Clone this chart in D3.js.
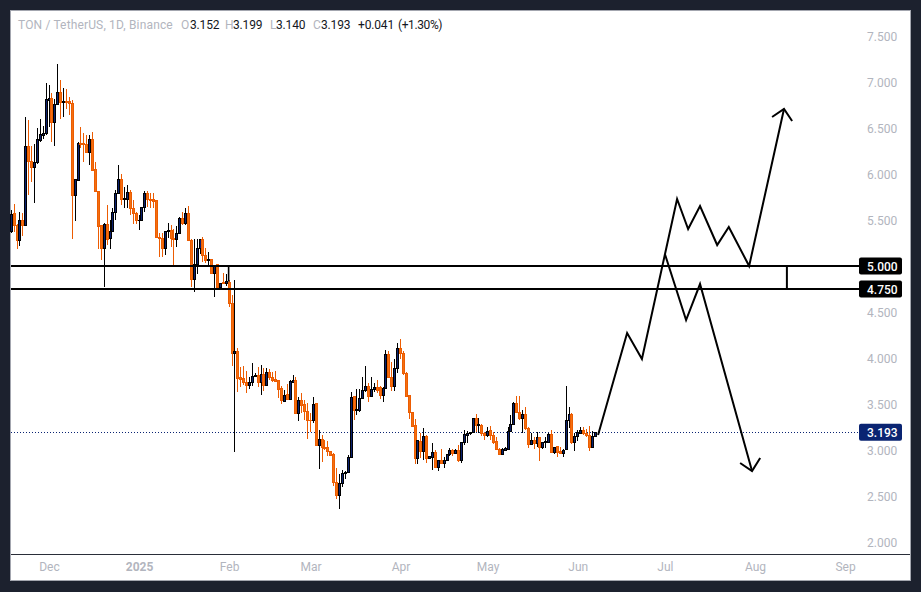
<!DOCTYPE html>
<html>
<head>
<meta charset="utf-8">
<style>
  html, body { margin: 0; padding: 0; background: #1c212e; overflow: hidden; }
  svg { display: block; }
  text { font-family: Roboto, sans-serif; font-size: 12px; }
  .axis text { fill: #b2b5be; font-size: 12px; }
  .axis .domain { display: none; }
</style>
</head>
<body>
<svg id="chart" width="921" height="592"></svg>
<script src="https://cdn.jsdelivr.net/npm/d3@7"></script>
<script>
// days are counted from 1 Dec 2024, first candle sits 13 days before that
const firstDay = -13;

const opens = [
  5.37, 5.572, 5.445, 5.275, 5.50, 5.44, 6.304, 6.134, 6.07, 6.12,
  6.362, 6.42, 6.435, 6.80, 6.82, 6.558, 6.757, 6.888, 6.78, 6.79,
  6.785, 6.768, 5.764, 5.927, 6.333, 6.33, 6.32, 6.232, 6.377, 6.05,
  5.815, 5.435, 5.19, 5.446, 5.30, 5.373, 5.583, 5.79, 5.942, 5.718,
  5.718, 5.80, 5.62, 5.573, 5.49, 5.50, 5.638, 5.79, 5.718, 5.718,
  5.707, 5.308, 5.30, 5.188, 5.377, 5.39, 5.30, 5.29, 5.355, 5.511,
  5.457, 5.573, 5.275, 4.855, 5.011, 5.192, 5.29, 5.112, 5.058, 5.076,
  4.917, 5.011, 4.768, 4.822, 4.811, 4.822, 4.594, 4.05, 4.076, 3.786,
  3.778, 3.735, 3.706, 3.735, 3.804, 3.815, 3.731, 3.822, 3.699, 3.844,
  3.79, 3.768, 3.753, 3.67, 3.532, 3.598, 3.55, 3.731, 3.76, 3.398,
  3.543, 3.50, 3.423, 3.326, 3.318, 3.507, 3.054, 3.119, 3.028, 3.028,
  2.981, 2.956, 2.645, 2.51, 2.637, 2.746, 2.757, 2.92, 3.58, 3.427,
  3.434, 3.558, 3.645, 3.695, 3.579, 3.655, 3.684, 3.68, 3.59, 3.67,
  4.043, 3.79, 3.688, 3.887, 4.105, 4.051, 3.833, 3.587, 3.409, 3.261,
  2.909, 3.09, 2.989, 3.152, 2.913, 2.92, 2.975, 2.808, 2.891, 2.851,
  2.891, 2.946, 3.0, 2.96, 3.0, 2.884, 3.083, 3.163, 3.174, 3.188,
  3.337, 3.264, 3.268, 3.181, 3.156, 3.21, 3.156, 3.087, 3.007, 2.949,
  3.0, 3.007, 3.203, 3.279, 3.507, 3.409, 3.34, 3.388, 3.235, 3.062,
  3.098, 3.072, 3.138, 3.025, 3.08, 3.083, 3.17, 2.971, 3.036, 2.989,
  2.964, 3.007, 3.319, 3.388, 3.08, 3.145, 3.181, 3.21, 3.181, 3.156,
  3.025, 3.152
];
const highs = [
  5.61, 5.674, 5.46, 5.587, 5.58, 6.62, 6.587, 6.304, 6.33, 6.50,
  6.60, 6.52, 6.99, 6.967, 6.88, 6.82, 7.195, 7.02, 6.94, 6.92,
  6.84, 6.80, 5.94, 6.35, 6.51, 6.45, 6.42, 6.42, 6.46, 6.13,
  5.82, 5.44, 5.464, 5.663, 5.50, 5.627, 5.826, 6.10, 6.0, 5.86,
  5.88, 5.83, 5.717, 5.59, 5.555, 5.64, 5.81, 5.81, 5.79, 5.797,
  5.718, 5.362, 5.36, 5.38, 5.464, 5.446, 5.40, 5.43, 5.536, 5.59,
  5.627, 5.652, 5.29, 5.29, 5.29, 5.29, 5.31, 5.192, 5.156, 5.08,
  5.01, 5.015, 4.82, 4.927, 4.913, 4.847, 4.684, 4.847, 4.105, 3.905,
  3.916, 3.858, 3.797, 3.942, 3.84, 3.905, 3.92, 3.887, 3.887, 3.876,
  3.85, 3.858, 3.76, 3.695, 3.65, 3.713, 3.76, 3.815, 3.79, 3.572,
  3.623, 3.543, 3.507, 3.398, 3.58, 3.514, 3.217, 3.163, 3.108, 3.097,
  2.99, 2.963, 2.80, 2.739, 2.782, 2.775, 2.945, 3.634, 3.587, 3.659,
  3.659, 3.797, 3.913, 3.73, 3.797, 3.73, 3.76, 3.695, 3.688, 4.087,
  4.08, 3.96, 3.989, 4.159, 4.207, 4.08, 3.851, 3.598, 3.41, 3.333,
  3.10, 3.18, 3.235, 3.163, 2.93, 3.072, 3.0, 2.893, 3.007, 2.92,
  2.946, 3.018, 3.015, 3.007, 3.054, 3.085, 3.217, 3.206, 3.20, 3.351,
  3.388, 3.344, 3.283, 3.199, 3.254, 3.261, 3.199, 3.145, 3.018, 3.018,
  3.036, 3.254, 3.38, 3.518, 3.587, 3.587, 3.435, 3.464, 3.254, 3.188,
  3.145, 3.199, 3.14, 3.085, 3.145, 3.188, 3.217, 3.036, 3.043, 3.036,
  3.007, 3.696, 3.464, 3.40, 3.181, 3.217, 3.246, 3.246, 3.224, 3.261,
  3.206, 3.199
];
const lows = [
  5.36, 5.373, 5.185, 5.217, 5.33, 5.44, 5.77, 5.916, 5.68, 6.11,
  6.35, 6.38, 6.42, 6.51, 6.35, 6.30, 6.75, 6.594, 6.616, 6.71,
  6.64, 5.293, 5.49, 5.92, 6.28, 6.13, 6.225, 6.10, 6.04, 5.80,
  5.19, 5.065, 4.775, 5.228, 5.19, 5.37, 5.50, 5.79, 5.663, 5.627,
  5.627, 5.555, 5.457, 5.457, 5.39, 5.49, 5.59, 5.645, 5.627, 5.627,
  5.30, 5.10, 5.094, 5.12, 5.30, 5.21, 4.993, 5.21, 5.355, 5.45,
  5.45, 5.27, 4.775, 4.72, 4.913, 5.13, 5.047, 5.03, 5.01, 4.91,
  4.667, 4.74, 4.74, 4.80, 4.78, 4.558, 3.916, 2.981, 3.634, 3.688,
  3.706, 3.623, 3.663, 3.695, 3.79, 3.688, 3.597, 3.645, 3.695, 3.76,
  3.735, 3.735, 3.561, 3.50, 3.525, 3.543, 3.543, 3.73, 3.395, 3.318,
  3.398, 3.326, 3.119, 3.199, 3.29, 3.05, 2.793, 2.873, 2.999, 2.93,
  2.935, 2.608, 2.463, 2.362, 2.594, 2.68, 2.746, 2.909, 3.326, 3.38,
  3.416, 3.554, 3.634, 3.518, 3.572, 3.634, 3.615, 3.55, 3.525, 3.663,
  3.78, 3.64, 3.645, 3.84, 3.985, 3.815, 3.572, 3.333, 3.25, 2.848,
  2.848, 2.909, 2.891, 2.862, 2.90, 2.783, 2.805, 2.775, 2.85, 2.808,
  2.88, 2.935, 2.935, 2.957, 2.873, 2.862, 3.054, 3.072, 3.16, 3.188,
  3.199, 3.188, 3.156, 3.109, 3.145, 3.109, 3.065, 3.0, 2.946, 2.946,
  2.993, 3.0, 3.199, 3.272, 3.40, 3.326, 3.188, 3.217, 3.025, 3.054,
  3.007, 3.029, 2.884, 3.007, 3.018, 3.08, 2.964, 2.956, 2.92, 2.953,
  2.927, 3.0, 3.243, 3.065, 2.993, 3.101, 3.18, 3.163, 3.145, 2.993,
  3.02, 3.14
];
const closes = [
  5.565, 5.445, 5.275, 5.50, 5.44, 6.304, 6.134, 6.072, 6.127, 6.37,
  6.424, 6.44, 6.81, 6.82, 6.558, 6.757, 6.888, 6.78, 6.79, 6.78,
  6.77, 5.764, 5.935, 6.333, 6.32, 6.32, 6.232, 6.377, 6.043, 5.808,
  5.427, 5.19, 5.446, 5.293, 5.373, 5.583, 5.79, 5.942, 5.718, 5.73,
  5.80, 5.62, 5.573, 5.49, 5.50, 5.638, 5.79, 5.718, 5.71, 5.703,
  5.308, 5.30, 5.192, 5.38, 5.387, 5.30, 5.29, 5.355, 5.511, 5.457,
  5.573, 5.275, 4.855, 5.011, 5.192, 5.29, 5.112, 5.058, 5.076, 4.917,
  5.004, 4.768, 4.81, 4.811, 4.83, 4.594, 4.05, 4.076, 3.778, 3.771,
  3.731, 3.706, 3.735, 3.804, 3.811, 3.731, 3.822, 3.699, 3.844, 3.79,
  3.76, 3.75, 3.663, 3.536, 3.594, 3.55, 3.742, 3.757, 3.398, 3.543,
  3.489, 3.416, 3.318, 3.318, 3.50, 3.054, 3.119, 3.028, 3.017, 2.981,
  2.945, 2.645, 2.51, 2.637, 2.746, 2.757, 2.92, 3.572, 3.427, 3.442,
  3.561, 3.652, 3.695, 3.579, 3.663, 3.684, 3.652, 3.597, 3.67, 4.043,
  3.79, 3.688, 3.887, 4.105, 4.051, 3.833, 3.58, 3.409, 3.254, 2.909,
  3.098, 2.989, 3.152, 2.909, 2.924, 2.975, 2.808, 2.891, 2.851, 2.89,
  2.946, 3.0, 2.96, 3.0, 2.884, 3.083, 3.17, 3.181, 3.188, 3.337,
  3.268, 3.275, 3.174, 3.156, 3.199, 3.156, 3.08, 3.007, 2.949, 3.007,
  3.011, 3.203, 3.279, 3.507, 3.409, 3.34, 3.388, 3.235, 3.062, 3.098,
  3.072, 3.138, 3.025, 3.083, 3.087, 3.17, 2.971, 3.029, 2.975, 2.964,
  3.0, 3.326, 3.388, 3.08, 3.145, 3.188, 3.21, 3.174, 3.156, 3.025,
  3.149, 3.193
];

// short black wick above the early February candle
const strayWick = { index: 75, high: 5.0, low: 4.83 };

const priceTicks = [2, 2.5, 3, 3.5, 4, 4.5, 5.5, 6, 6.5, 7, 7.5];
const monthDays = [0, 31, 62, 90, 121, 151, 182, 212, 243, 274];
const monthLabels = ['Dec', '2025', 'Feb', 'Mar', 'Apr', 'May', 'Jun', 'Jul', 'Aug', 'Sep'];

const zoneTop = 5.0;
const zoneBottom = 4.75;
const lastPrice = 3.193;
const zoneMarkDay = 254;

// projected paths
const upDays = [189, 199, 204.1, 216.2, 220, 224.1, 230, 234, 241, 253];
const upPrices = [3.163, 4.272, 3.989, 5.728, 5.402, 5.652, 5.228, 5.424, 5.0, 6.707];
const upHeadDays = [248.9, 253, 255.8];
const upHeadPrices = [6.62, 6.707, 6.576];
const downDays = [212, 219.3, 224.1, 242];
const downPrices = [5.13, 4.413, 4.804, 2.772];
const downHeadDays = [237.9, 242, 244.8];
const downHeadPrices = [2.859, 2.772, 2.913];

const UP = '#0b2170', DOWN = '#f4700f', DOWN_EDGE = '#ec5c02', NAVY = '#0a2472';

const svg = d3.select('#chart');
const x = d3.scaleLinear().domain([0, 274]).range([49, 845]);
const y = d3.scaleLinear().domain([2, 7.5]).range([542, 36]);

svg.append('rect').attr('x', 10.5).attr('y', 10.5).attr('width', 900).attr('height', 570)
  .attr('fill', '#fff').attr('stroke', '#a3a6af');

// last price dotted line
svg.append('line').attr('x1', 11).attr('x2', 859)
  .attr('y1', Math.floor(y(lastPrice)) + 0.5).attr('y2', Math.floor(y(lastPrice)) + 0.5)
  .attr('stroke', NAVY).attr('stroke-width', 1).attr('stroke-dasharray', '1 2');

// candles
const candle = svg.append('g').selectAll('g').data(opens).join('g')
  .attr('transform', (d, i) => `translate(${x(firstDay + i)},0)`)
  .attr('shape-rendering', 'crispEdges');
const isUp = i => closes[i] >= opens[i];

candle.append('line')
  .attr('y1', (d, i) => y(highs[i])).attr('y2', (d, i) => y(lows[i]))
  .attr('stroke', (d, i) => isUp(i) ? '#000' : DOWN_EDGE).attr('stroke-width', 1);
candle.append('rect')
  .attr('x', -1).attr('width', 2)
  .attr('y', (d, i) => y(Math.max(opens[i], closes[i])))
  .attr('height', (d, i) => Math.max(0.6, Math.abs(y(opens[i]) - y(closes[i]))))
  .attr('fill', (d, i) => isUp(i) ? UP : DOWN)
  .attr('stroke', (d, i) => isUp(i) ? '#000' : DOWN_EDGE).attr('stroke-width', 1);

svg.append('line')
  .attr('x1', x(firstDay + strayWick.index) - 0.5).attr('x2', x(firstDay + strayWick.index) - 0.5)
  .attr('y1', y(strayWick.high)).attr('y2', y(strayWick.low))
  .attr('stroke', '#000').attr('stroke-width', 1.6);

// zone lines
[zoneTop, zoneBottom].forEach(p => {
  svg.append('line').attr('x1', 11).attr('x2', 859)
    .attr('y1', y(p)).attr('y2', y(p))
    .attr('stroke', '#000').attr('stroke-width', 2);
});
svg.append('line').attr('x1', x(zoneMarkDay)).attr('x2', x(zoneMarkDay))
  .attr('y1', y(zoneTop)).attr('y2', y(zoneBottom))
  .attr('stroke', '#000').attr('stroke-width', 2);

// drawn paths and arrow heads
const path = d3.line().x(d => x(d[0])).y(d => y(d[1]));
[[upDays, upPrices], [upHeadDays, upHeadPrices], [downDays, downPrices], [downHeadDays, downHeadPrices]]
  .forEach(([days, prices]) => {
    svg.append('path').datum(d3.zip(days, prices))
      .attr('d', path).attr('fill', 'none')
      .attr('stroke', '#000').attr('stroke-width', 2)
      .attr('stroke-linejoin', 'miter');
  });

// axes
svg.append('g').attr('class', 'axis').attr('transform', 'translate(862,0.5)')
  .call(d3.axisRight(y).tickValues(priceTicks).tickSize(0).tickFormat(d3.format('.3f')))
  .selectAll('text').attr('x', 5);

svg.append('line').attr('x1', 11).attr('x2', 910).attr('y1', 554.5).attr('y2', 554.5)
  .attr('stroke', '#2a2e39').attr('stroke-width', 1);

const xAxis = svg.append('g').attr('class', 'axis').attr('transform', 'translate(0,559)')
  .call(d3.axisBottom(x).tickValues(monthDays).tickSize(0).tickFormat((d, i) => monthLabels[i]));
xAxis.selectAll('text').attr('y', 3).style('font-weight', (d, i) => monthLabels[i] === '2025' ? 700 : 400);

// price tags on the scale
[[zoneTop, '#000'], [zoneBottom, '#000'], [lastPrice, NAVY]].forEach(([p, fill]) => {
  svg.append('rect').attr('x', 859).attr('y', y(p) - 8.5).attr('width', 43).attr('height', 17)
    .attr('rx', 2).attr('fill', fill);
  svg.append('text').attr('x', 867).attr('y', y(p) + 0.5).attr('dy', '0.35em')
    .attr('fill', '#fff').style('font-weight', 500).text(d3.format('.3f')(p));
});

// legend line
const legend = [
  [18, 'TON / TetherUS, 1D, Binance', '#b2b5be', 0.15],
  [181, 'O', '#b2b5be', 0], [190, '3.152', '#131722', -0.15],
  [225, 'H', '#b2b5be', 0], [233, '3.199', '#131722', -0.15],
  [270, 'L', '#b2b5be', 0], [276, '3.140', '#131722', -0.15],
  [313, 'C', '#b2b5be', 0], [321, '3.193', '#131722', -0.15],
  [358, '+0.041', '#131722', -0.15], [398, '(+1.30%)', '#131722', -0.4]
];
svg.append('g').selectAll('text').data(legend).join('text')
  .attr('x', d => d[0]).attr('y', 25).attr('dy', '0.35em')
  .attr('letter-spacing', d => d[3])
  .attr('fill', d => d[2]).text(d => d[1]);
</script>
</body>
</html>
